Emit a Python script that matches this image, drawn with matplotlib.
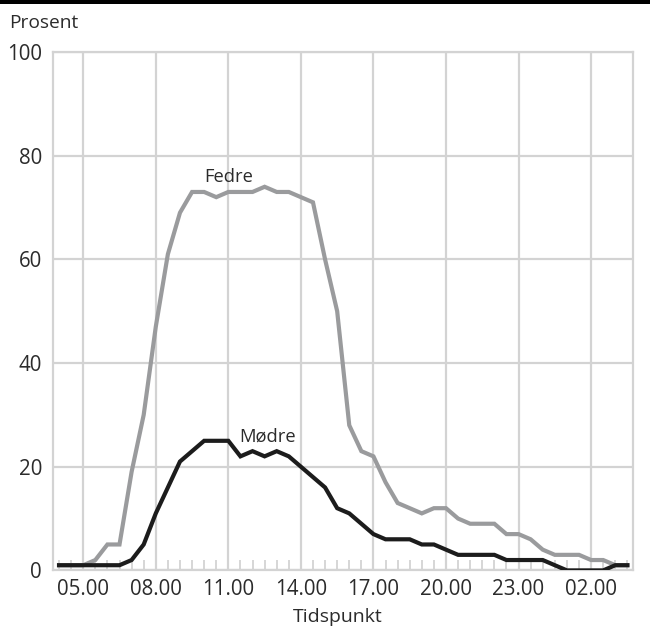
import matplotlib
matplotlib.use("Agg")
import matplotlib.pyplot as plt
from matplotlib.patches import Rectangle
import numpy as np

plt.rcParams['font.family'] = ['Open Sans', 'DejaVu Sans']

# half-hour points from 04.00 to 03.30 next night
hours = np.arange(4.0, 28.0, 0.5)
fedre = [1, 1, 1, 2, 5, 5, 19, 30, 47, 61, 69, 73,
         73, 72, 73, 73, 73, 74, 73, 73, 72, 71, 60, 50,
         28, 23, 22, 17, 13, 12, 11, 12, 12, 10, 9, 9,
         9, 7, 7, 6, 4, 3, 3, 3, 2, 2, 1, 1]
modre = [1, 1, 1, 1, 1, 1, 2, 5, 11, 16, 21, 23,
         25, 25, 25, 22, 23, 22, 23, 22, 20, 18, 16, 12,
         11, 9, 7, 6, 6, 6, 5, 5, 4, 3, 3, 3,
         3, 2, 2, 2, 2, 1, 0, 0, 0, 0, 1, 1]
major_ticks = [5, 8, 11, 14, 17, 20, 23, 26]
major_labels = ['05.00', '08.00', '11.00', '14.00', '17.00', '20.00', '23.00', '02.00']
y_ticks = [0, 20, 40, 60, 80, 100]

grid_col = '#d3d3d3'
text_col = '#2b2b2b'

fig = plt.figure(figsize=(6.5, 6.28), dpi=100)
ax = fig.add_axes([53 / 650, 1 - 570.4 / 628, (632.7 - 53) / 650, (570.4 - 52) / 628])

ax.plot(hours, fedre, color='#9a9b9d', lw=3.0, solid_joinstyle='miter', zorder=3)
ax.plot(hours, modre, color='#1c1c1c', lw=3.0, solid_joinstyle='miter', zorder=4)

ax.set_xlim(3.75, 27.72)
ax.set_ylim(0, 100)

ax.set_xticks(major_ticks)
ax.set_xticklabels(major_labels)
ax.set_xticks(hours, minor=True)
ax.set_yticks(y_ticks)
ax.set_yticklabels([str(v) for v in y_ticks])

ax.grid(True, which='major', color=grid_col, lw=1.6, zorder=0)
ax.set_axisbelow(True)
for s in ax.spines.values():
    s.set_color(grid_col)
    s.set_linewidth(1.6)

ax.tick_params(axis='both', which='major', length=0, labelsize=14.8, labelcolor=text_col)
ax.tick_params(axis='x', which='major', pad=6)
ax.tick_params(axis='y', which='major', pad=8)
ax.tick_params(axis='x', which='minor', direction='in', length=7.5, width=1.3, color=grid_col)

ax.text(10.0, 75, 'Fedre', fontsize=13.2, color=text_col, ha='left', va='baseline', zorder=5)
ax.text(11.45, 24.8, 'Mødre', fontsize=13.2, color=text_col, ha='left', va='baseline', zorder=5)

fig.text(9 / 650, 1 - 27.7 / 628, 'Prosent', fontsize=13.8, color=text_col, ha='left', va='baseline')
fig.text(338 / 650, 1 - 622 / 628, 'Tidspunkt', fontsize=14, color=text_col, ha='center', va='baseline')

fig.add_artist(Rectangle((0, 1 - 4 / 628), 1, 4 / 628, transform=fig.transFigure,
                         color='black', lw=0))

fig.savefig('out.png', dpi=100)
